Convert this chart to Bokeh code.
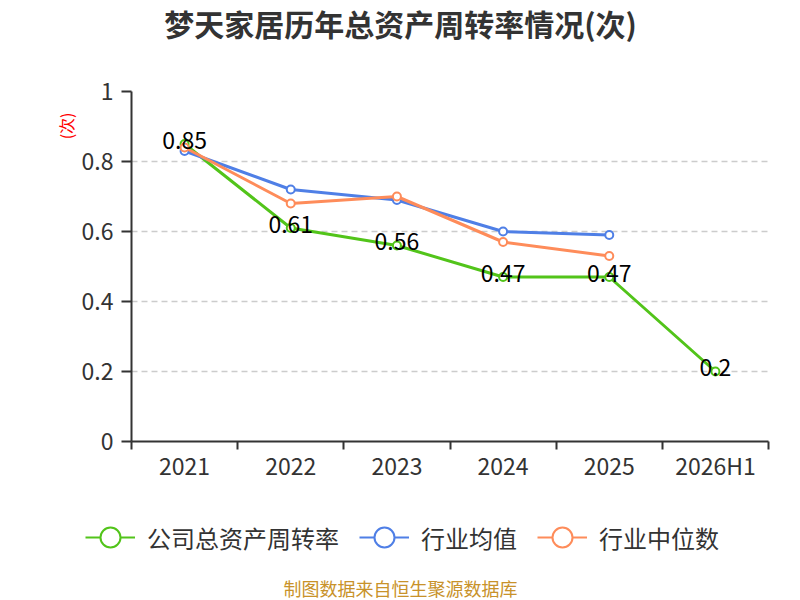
from bokeh.plotting import figure
from bokeh.layouts import column
from bokeh.models import FactorRange, Range1d, LinearAxis, FixedTicker, Legend, LegendItem, Title
from bokeh.core.properties import value
from bokeh.embed import file_html
from bokeh.resources import INLINE

years = ["2021", "2022", "2023", "2024", "2025", "2026H1"]
company = [0.85, 0.61, 0.56, 0.47, 0.47, 0.2]
industry_avg = [0.83, 0.72, 0.69, 0.60, 0.59]
industry_median = [0.84, 0.68, 0.70, 0.57, 0.53]
y_ticks = [0, 0.2, 0.4, 0.6, 0.8, 1]

FONT = "Noto Sans CJK SC"
GREEN, BLUE, ORANGE = "#52c41a", "#4f7fe6", "#fe8c5a"
series = [("公司总资产周转率", company, GREEN),
          ("行业均值", industry_avg, BLUE),
          ("行业中位数", industry_median, ORANGE)]


def no_align(f):
    # keep each strip's frame where it is set, not lined up with its neighbours
    if "frame_align" in f.properties():
        f.frame_align = False
    return f


def blank(height):
    # empty strip whose frame fills the whole canvas, y measured from the top
    f = figure(width=800, height=height, x_range=Range1d(0, 800), y_range=Range1d(height, 0),
               x_axis_location=None, y_axis_location=None, title=None,
               output_backend="svg", toolbar_location=None, min_border=0)
    f.outline_line_color = None
    f.grid.visible = False
    return no_align(f)


# title strip
top = blank(70)
top.text(x=[400], y=[22], text=["梦天家居历年总资产周转率情况(次)"], text_align="center",
         text_baseline="middle", text_font=value(FONT), text_font_size="30px",
         text_font_style="bold", text_color="#333333")

# main chart
p = figure(width=800, height=430, x_range=FactorRange(*years), y_range=Range1d(0, 1),
           x_axis_location=None, y_axis_location=None, title=None,
           output_backend="svg", toolbar_location=None,
           min_border_left=131, min_border_right=32, min_border_top=21, min_border_bottom=59)
no_align(p)
p.outline_line_color = None
p.xgrid.visible = False

# category axis drawn with a fixed ticker: labels at the centres, ticks at the boundaries
centres = [i + 0.5 for i in range(len(years))]
xaxis = LinearAxis(ticker=FixedTicker(ticks=centres, minor_ticks=list(range(len(years) + 1))))
xaxis.major_label_overrides = {c: y for c, y in zip(centres, years)}
xaxis.major_tick_line_color = None
xaxis.major_tick_out = 0
xaxis.major_tick_in = 0
xaxis.minor_tick_out = 8
xaxis.minor_tick_in = 0
xaxis.minor_tick_line_color = "#333333"
xaxis.minor_tick_line_width = 2
xaxis.axis_line_color = "#333333"
xaxis.axis_line_width = 2
xaxis.major_label_standoff = -2
xaxis.major_label_text_font = FONT
xaxis.major_label_text_font_size = "23px"
xaxis.major_label_text_color = "#333333"
p.add_layout(xaxis, "below")

yaxis = LinearAxis(ticker=FixedTicker(ticks=y_ticks))
yaxis.major_label_overrides = {t: f"{t:g}" for t in y_ticks}
yaxis.axis_line_color = "#333333"
yaxis.axis_line_width = 2
yaxis.major_tick_line_color = "#333333"
yaxis.major_tick_line_width = 2
yaxis.major_tick_out = 10
yaxis.major_tick_in = 0
yaxis.minor_tick_line_color = None
yaxis.major_label_standoff = 8
yaxis.major_label_text_font = FONT
yaxis.major_label_text_font_size = "23px"
yaxis.major_label_text_color = "#333333"
p.add_layout(yaxis, "left")

p.add_layout(Title(text="(次)", align="right", offset=21, standoff=2, text_font=FONT,
                   text_font_size="16px", text_font_style="normal", text_color="red"), "left")

p.ygrid.ticker = FixedTicker(ticks=y_ticks)
p.ygrid.grid_line_color = "#cccccc"
p.ygrid.grid_line_dash = "6 4"
p.ygrid.grid_line_width = 1.5

for name, vals, color in series:
    xs = years[:len(vals)]
    p.line(xs, vals, line_color=color, line_width=3)
    p.scatter(xs, vals, size=8, fill_color="white", line_color=color, line_width=2)

p.text(x=years, y=company, text=[f"{v:g}" for v in company], y_offset=-4,
       text_align="center", text_baseline="middle", text_color="black",
       text_font_size="23px", text_font=value(FONT))

# legend and source strip
bottom = blank(100)
items = []
for name, vals, color in series:
    ln = bottom.line(x=[float("nan")], y=[float("nan")], line_color=color, line_width=2)
    sc = bottom.scatter(x=[float("nan")], y=[float("nan")], fill_color="white",
                        line_color=color, line_width=2)
    items.append(LegendItem(label=name, renderers=[ln, sc]))
legend = Legend(items=items, orientation="horizontal", location=(85, 35),
                label_text_font=FONT, label_text_font_size="24px", label_text_color="#333333",
                glyph_width=50, glyph_height=56, label_standoff=12, spacing=20,
                padding=0, margin=0, border_line_color=None, background_fill_alpha=0)
bottom.add_layout(legend)
bottom.text(x=[400], y=[87], text=["制图数据来自恒生聚源数据库"], text_align="center",
            text_baseline="middle", text_font=value(FONT), text_font_size="18px",
            text_color="#c8922a")

open("out.html", "w").write(file_html(column(top, p, bottom), INLINE))
